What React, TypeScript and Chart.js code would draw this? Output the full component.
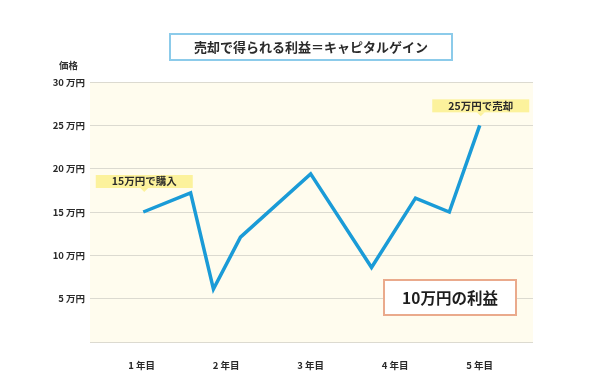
import React, { useEffect, useRef } from "react";
import { Chart, registerables } from "chart.js";

Chart.register(...registerables);

const titleText = "売却で得られる利益＝キャピタルゲイン";
const yAxisTitle = "価格";
const yTickValues = [0, 5, 10, 15, 20, 25, 30];
const yTickUnit = "万円";
const xTickValues = [1, 2, 3, 4, 5];
const xTickLabels = ["1 年目", "2 年目", "3 年目", "4 年目", "5 年目"];
const pointX = [1.02, 1.58, 1.85, 2.17, 3.0, 3.72, 4.24, 4.64, 5.0];
const priceValues = [15.0, 17.2, 6.1, 12.1, 19.4, 8.6, 16.6, 15.0, 25.0];
const buyLabel = "15万円で購入";
const sellLabel = "25万円で売却";
const profitLabel = "10万円の利益";

const FONT = '"Noto Sans CJK JP", "Noto Sans", sans-serif';

const decorPlugin = {
  id: "decor",
  beforeDraw(chart: any) {
    const { ctx, chartArea } = chart;
    ctx.save();
    ctx.fillStyle = "#fffcee";
    ctx.fillRect(chartArea.left, chartArea.top, chartArea.right - chartArea.left, chartArea.bottom - chartArea.top);
    ctx.restore();
  },
  afterDraw(chart: any) {
    const { ctx } = chart;
    const xs = chart.scales.x;
    const ys = chart.scales.y;
    ctx.save();
    // title box
    ctx.fillStyle = "#ffffff";
    ctx.fillRect(170, 34, 282, 26);
    ctx.strokeStyle = "#8ccbea";
    ctx.lineWidth = 2;
    ctx.strokeRect(170, 34, 282, 26);
    ctx.fillStyle = "#2a2a2a";
    ctx.font = `bold 13px ${FONT}`;
    ctx.textAlign = "center";
    ctx.textBaseline = "middle";
    ctx.fillText(titleText, 311, 47.5);

    // y axis title
    ctx.fillStyle = "#333333";
    ctx.font = `bold 9.5px ${FONT}`;
    ctx.fillText(yAxisTitle, 68.5, 65);

    // callouts
    const callout = (label: string, px: number, py: number, gap: number, w: number) => {
      const tipY = py - gap;
      const boxB = tipY - 4;
      const boxT = boxB - 13;
      const cx = px + 1;
      ctx.fillStyle = "#fcf29c";
      ctx.fillRect(cx - w / 2, boxT, w, 13);
      ctx.beginPath();
      ctx.moveTo(cx - 4, boxB);
      ctx.lineTo(cx + 4, boxB);
      ctx.lineTo(cx, tipY);
      ctx.closePath();
      ctx.fill();
      ctx.fillStyle = "#2a2a2a";
      ctx.font = `bold 10.5px ${FONT}`;
      ctx.textAlign = "center";
      ctx.textBaseline = "middle";
      ctx.fillText(label, cx, boxT + 6.5);
    };
    const n = priceValues.length - 1;
    callout(buyLabel, xs.getPixelForValue(pointX[0]), ys.getPixelForValue(priceValues[0]), 20, 97);
    callout(sellLabel, xs.getPixelForValue(pointX[n]), ys.getPixelForValue(priceValues[n]), 9, 97);

    // profit box
    ctx.fillStyle = "#ffffff";
    ctx.fillRect(384, 280, 132, 35);
    ctx.strokeStyle = "#eaaa8c";
    ctx.lineWidth = 2;
    ctx.strokeRect(384, 280, 132, 35);
    ctx.fillStyle = "#1e1e1e";
    ctx.font = `bold 15.5px ${FONT}`;
    ctx.textAlign = "center";
    ctx.textBaseline = "middle";
    ctx.fillText(profitLabel, 450, 298);
    ctx.restore();
  },
};

export default function App() {
  const ref = useRef<HTMLCanvasElement>(null);
  useEffect(() => {
    document.body.style.margin = "0";
    const chart = new Chart(ref.current as HTMLCanvasElement, {
      type: "line",
      data: {
        datasets: [
          {
            data: pointX.map((x, i) => ({ x, y: priceValues[i] })),
            borderColor: "#1a9bd7",
            borderWidth: 3.5,
            pointRadius: 0,
            tension: 0,
            fill: false,
          },
        ],
      },
      options: {
        responsive: false,
        animation: false,
        devicePixelRatio: 1,
        layout: { padding: { left: 0, right: 67, top: 82, bottom: 0 } },
        plugins: { legend: { display: false }, tooltip: { enabled: false }, title: { display: false } },
        scales: {
          x: {
            type: "linear",
            min: 0.39,
            max: 5.63,
            afterBuildTicks: (scale: any) => {
              scale.ticks = xTickValues.map((v) => ({ value: v }));
            },
            afterFit: (scale: any) => {
              scale.height = 50;
            },
            grid: { display: false },
            border: { display: false },
            ticks: {
              autoSkip: false,
              maxRotation: 0,
              padding: 10,
              color: "#2a2a2a",
              font: { family: FONT, size: 9.5, weight: "bold" },
              callback: (v: any) => {
                const i = xTickValues.indexOf(Number(v));
                return i >= 0 ? xTickLabels[i] : "";
              },
            },
          },
          y: {
            min: 0,
            max: 30,
            afterBuildTicks: (scale: any) => {
              scale.ticks = yTickValues.map((v) => ({ value: v }));
            },
            afterFit: (scale: any) => {
              scale.width = 90;
            },
            grid: { color: "#dcdad0", lineWidth: 1, drawTicks: false },
            border: { display: false },
            ticks: {
              padding: 5,
              color: "#2a2a2a",
              font: { family: FONT, size: 9.5, weight: "bold" },
              callback: (v: any) => (Number(v) === 0 ? "" : `${v} ${yTickUnit}`),
            },
          },
        },
      },
      plugins: [decorPlugin],
    } as any);
    return () => chart.destroy();
  }, []);
  return (
    <div style={{ position: "absolute", left: 0, top: 0, width: 600, height: 392 }}>
      <canvas ref={ref} width={600} height={392} style={{ width: 600, height: 392 }} />
    </div>
  );
}
